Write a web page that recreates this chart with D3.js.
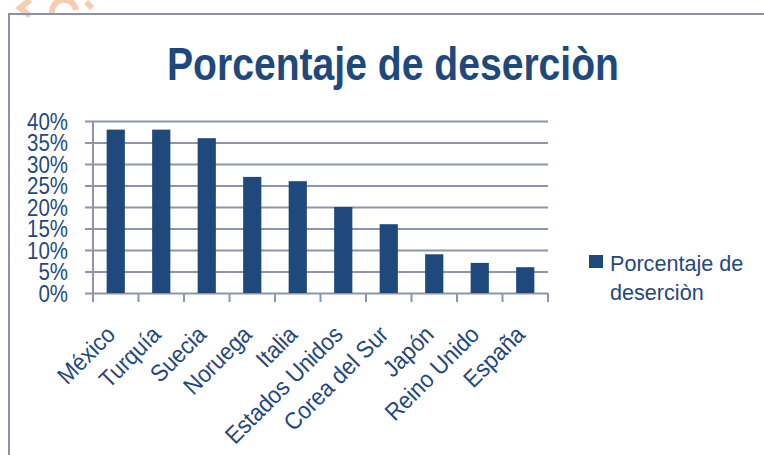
<!DOCTYPE html>
<html>
<head>
<meta charset="utf-8">
<script src="https://cdn.jsdelivr.net/npm/d3@7"></script>
<style>
  body { margin: 0; background: #fff; }
  svg { display: block; }
</style>
</head>
<body>
<svg id="chart" width="764" height="455"></svg>
<script>
// Porcentaje de deserción por país
const countries = ['México', 'Turquía', 'Suecia', 'Noruega', 'Italia',
                   'Estados Unidos', 'Corea del Sur', 'Japón', 'Reino Unido', 'España'];
const desercion = [38, 38, 36, 27, 26, 20, 16, 9, 7, 6];
const yTicks = [0, 5, 10, 15, 20, 25, 30, 35, 40];
const seriesName = 'Porcentaje de deserciòn';

const blue = '#1F497D';
const grid = '#8C95AB';
const font = '"Liberation Sans", Arial, sans-serif';

const svg = d3.select('#chart');

// squeeze a text horizontally (the original font is narrower than Arial)
function condense(sel, k) {
    sel.each(function () {
        const w = this.getComputedTextLength();
        d3.select(this)
            .attr('textLength', w * k)
            .attr('lengthAdjust', 'spacingAndGlyphs');
    });
}

// faint watermark remnant at top
const wm = svg.append('g').attr('fill', 'none').attr('stroke', '#F6CDB0').attr('stroke-width', 6);
wm.append('path').attr('d', 'M30,0 L20,8 L30,16');
wm.append('path').attr('d', 'M52,14 A12,12 0 0 1 76,10');
wm.append('path').attr('d', 'M86,2 L92,8');

// chart frame
svg.append('rect')
    .attr('x', 9).attr('y', 14)
    .attr('width', 770).attr('height', 460)
    .attr('fill', 'none')
    .attr('stroke', '#8A92A8')
    .attr('stroke-width', 2);

// title
svg.append('text')
    .attr('x', 393)
    .attr('y', 80)
    .attr('text-anchor', 'middle')
    .attr('fill', blue)
    .attr('font-family', font)
    .attr('font-weight', 'bold')
    .attr('font-size', 47)
    .attr('textLength', 452)
    .attr('lengthAdjust', 'spacingAndGlyphs')
    .text(seriesName);

const plotLeft = 93, plotRight = 548, plotTop = 121, plotBottom = 293;

const x = d3.scaleBand()
    .domain(countries)
    .range([plotLeft, plotRight])
    .paddingInner(0.6)
    .paddingOuter(0.3);

const y = d3.scaleLinear()
    .domain([0, 40])
    .range([plotBottom, plotTop]);

// gridlines + percent labels
const yAxis = svg.append('g')
    .attr('transform', `translate(${plotLeft},0)`)
    .call(d3.axisLeft(y)
        .tickValues(yTicks)
        .tickSize(-(plotRight - plotLeft))
        .tickFormat(d => d + '%'));
yAxis.select('.domain').remove();
yAxis.selectAll('.tick line')
    .attr('x1', -8)
    .attr('stroke', grid)
    .attr('stroke-width', 2);
yAxis.selectAll('.tick text')
    .attr('x', -25)
    .attr('dy', '0.36em')
    .attr('fill', blue)
    .attr('font-family', font)
    .attr('font-size', 23)
    .call(condense, 0.89);

// vertical axis line
svg.append('line')
    .attr('x1', plotLeft).attr('x2', plotLeft)
    .attr('y1', plotTop).attr('y2', plotBottom + 9)
    .attr('stroke', grid)
    .attr('stroke-width', 2);

// bars
svg.append('g')
    .selectAll('rect')
    .data(desercion)
    .join('rect')
    .attr('x', (d, i) => x(countries[i]))
    .attr('y', d => y(d))
    .attr('width', x.bandwidth())
    .attr('height', d => y(0) - y(d))
    .attr('fill', blue);

// category ticks (at boundaries)
const step = x.step();
svg.append('g')
    .selectAll('line')
    .data(d3.range(countries.length + 1))
    .join('line')
    .attr('x1', i => plotLeft + i * step)
    .attr('x2', i => plotLeft + i * step)
    .attr('y1', plotBottom)
    .attr('y2', plotBottom + 9)
    .attr('stroke', grid)
    .attr('stroke-width', 2);

// category labels, rotated
svg.append('g')
    .selectAll('text')
    .data(countries)
    .join('text')
    .attr('transform', d => `translate(${x(d) + x.bandwidth() / 2 + 1},${plotBottom + 43}) rotate(-45)`)
    .attr('text-anchor', 'end')
    .attr('fill', blue)
    .attr('font-family', font)
    .attr('font-size', 24)
    .text(d => d)
    .call(condense, 0.92);

// legend
const legend = svg.append('g').attr('transform', 'translate(589,255)');
legend.append('rect')
    .attr('width', 14).attr('height', 13)
    .attr('fill', blue);
legend.selectAll('text')
    .data(['Porcentaje de', 'deserciòn'])
    .join('text')
    .attr('x', 21)
    .attr('y', (d, i) => 16 + i * 29)
    .attr('fill', blue)
    .attr('font-family', font)
    .attr('font-size', 22.5)
    .text(d => d)
    .call(condense, 0.96);
</script>
</body>
</html>
